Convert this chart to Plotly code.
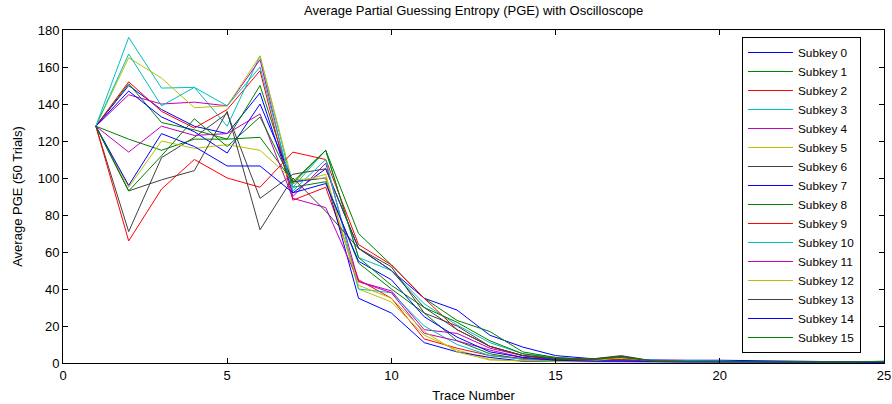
import plotly.graph_objects as go

trace_numbers = list(range(1, 26))

subkey_names = [f"Subkey {i}" for i in range(16)]

pge = [
    [128,150,137,128,124,146,92,105,62,50,35,28.6,15,8.6,4,2.5,1.8,1.5,1.5,1.5,1.2,1,0.8,0.6,0.4],
    [128,151,130,126,121,150,95,98,54,40,27,12,5,2,1.5,1.5,3.5,1,0.8,0.8,0.6,0.6,0.5,0.5,0.8],
    [128,152,136,127,137,158,88,95,45,35,13,8,4,2.5,1.5,1.5,1,1,0.8,0.8,0.6,0.5,0.5,0.4,0.4],
    [128,176,148.6,149,128,166,95,115,57,50,32,20.5,11,5,3,2,1.5,1,1,0.8,0.8,0.6,0.5,0.5,0.4],
    [128,145,140,141,139,164,90,108,44,39,18,16,8,4,2.5,2,1.5,1,0.8,0.8,0.6,0.5,0.5,0.4,0.4],
    [128,165,154,138,139,166,97,102,40,33,15,7,2,1,0.8,1,2.5,1,0.6,0.6,0.5,0.5,0.4,0.4,0.3],
    [128,71,111,122,135,89,102,105,62,52,27,20,9,4,2,2,4,1,0.8,0.8,0.6,0.5,0.5,0.4,0.4],
    [128,147,133,125,113.5,140,98,100,35,27,11,6,3,1,0.8,0.8,1,0.6,0.5,0.5,0.5,0.4,0.4,0.3,0.3],
    [128,121,115,121,121,122,98,115,70,53,35,23,17,6,3,2,1.5,1,0.8,0.8,0.6,0.6,0.5,0.5,0.5],
    [128,66,94,110,100,95,114,110,64,53,35,18,9,4,2.5,2,1.5,1,0.8,0.8,0.6,0.5,0.5,0.4,0.4],
    [128,167,139,149,139,160,93,110,40,38,20,10,4,2,1,1,1.2,0.8,0.6,0.6,0.5,0.5,0.4,0.4,0.3],
    [128,114,128,123,124,134.6,89,84,44,38,16,12,7,3,2,1.5,1.2,0.8,0.6,0.6,0.5,0.5,0.4,0.4,0.3],
    [128,95,120,116,118,115,99,100,42,35,17,6,1.6,1,0.8,0.8,3,1,0.6,0.6,0.5,0.5,0.4,0.4,0.3],
    [128,93,99,104,136,72,100,82,62,50,30,18,9,4,2,2,3.5,1,0.8,0.8,0.6,0.5,0.5,0.4,0.4],
    [128,96,124,117,106.5,106.5,92,97,55,45,25,14,6,3,1.5,1,1,0.8,0.8,0.8,0.6,0.5,0.5,0.4,0.4],
    [128,93,112,132,117,133,97,115,57,42,30,22,12,5,2.5,2,3,1,0.8,0.8,0.6,0.6,0.5,0.5,1],
]

palette = ["#0000FF", "#008000", "#FF0000", "#00BFBF", "#BF00BF", "#BFBF00", "#404040"]

fig = go.Figure()
for i, (name, vals) in enumerate(zip(subkey_names, pge)):
    fig.add_trace(go.Scatter(
        x=trace_numbers, y=vals, mode="lines", name=name,
        line=dict(color=palette[i % len(palette)], width=1),
    ))

font_family = "Liberation Sans, Arial, sans-serif"
axis_common = dict(
    showline=True, linecolor="black", linewidth=1, mirror="ticks",
    ticks="inside", ticklen=5, tickcolor="black",
    showgrid=False, zeroline=False, automargin=False,
    tickfont=dict(family=font_family, size=13, color="black"),
)

fig.update_layout(
    width=892, height=404,
    margin=dict(l=63, r=8, t=30, b=41),
    paper_bgcolor="white", plot_bgcolor="white",
    font=dict(family=font_family, size=13, color="black"),
    title=dict(text="Average Partial Guessing Entropy (PGE) with Oscilloscope",
               x=0.531, xanchor="center", y=0.975, yanchor="middle",
               font=dict(family=font_family, size=13, color="black")),
    xaxis=dict(range=[0, 25], dtick=5, tick0=0,
               title=dict(text="Trace Number", standoff=9,
                          font=dict(family=font_family, size=13)),
               **axis_common),
    yaxis=dict(range=[0, 180], dtick=20, tick0=0,
               title=dict(text="Average PGE (50 Trials)", standoff=12,
                          font=dict(family=font_family, size=13)),
               **axis_common),
    legend=dict(x=0.827, xanchor="left", y=0.979, yanchor="top",
                bgcolor="white", bordercolor="black", borderwidth=1,
                font=dict(family=font_family, size=11.8, color="black"),
                tracegroupgap=0, itemwidth=45),
    showlegend=True,
)

fig.write_html("out.html")
